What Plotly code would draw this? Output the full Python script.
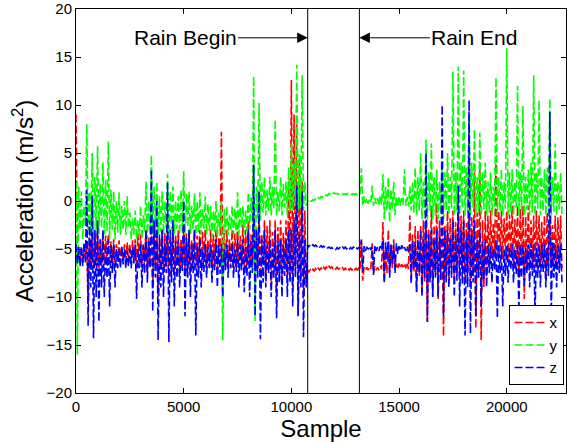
import numpy as np
import plotly.graph_objects as go

# upper / lower reach of each axis, one pair every 125 samples (0 .. 22500)
step = 125

x_hi = [9, -4.8, -5, -4.6, -4.5, -3.8, -3.5, -3.2, -3, -4,
        -3.3, -3.6, -3.5, -4.2, -4, -4.5, -4.1, -4.8, -4.5, -4.3,
        -4.5, -4.1, -4, -3.4, -3.5, -4.4, -3, -3.8, -3, -2.6,
        -3, -3.9, -3, -3.3, -3, -4, -3, -3.5, -3, -3.9,
        -3, -3.4, -3, -4.1, -3, -3.6, -3, -3.2, -3, -4,
        -3, -3.5, -3, -3.8, 7.2, -3.3, -3, -4, -3, -3.4,
        -2.5, -3.6, -2.5, -3, -2, -3.5, -2, -2.8, -2, -3.4,
        -2, -2.6, -2, -3.2, -2, -2.7, -2, -3.3, -2, 2,
        12.6, 9, 8, 4, 2, -1, -7.2, -7.15, -7.1, -7.05,
        -7.0, -6.95, -6.9, -6.85, -6.8, -6.85, -6.9, -6.9, -7.0, -6.95,
        -7.0, -7.0, -7.0, -6.95, -7.0, -7.0, -4, -6.9, -6.9, -6.9,
        -4.4, -6.8, -6.9, -6.8, -2.2, -5, -3, -4.5, -4, -6.5,
        -6.5, -6.6, -6.5, -6.4, -1.5, -3.5, -2.6, -3, -2.6, -2,
        -2, -3, -0.5, -2.5, -0.2, -2, -1, -2.5, -1, -1.8,
        -1, -2.2, -1, -1.5, -1, -2.3, -1, -1.6, 3, -1.2,
        3.3, -2, -1, -1.5, -1, -2.3, 4.5, -1, -1, -1.8,
        -1, -1.4, -0.5, -1.9, -0.5, -0.8, -0.5, -1.6, -0.5, -2,
        -1.5, -1, -1.5, -2.2, -1.5, -1.2, -1.5, -2.5, -1.5, -1.7,
        -1.5]
x_lo = [-6.5, -6.2, -6.5, -6.0, -10.7, -6.8, -7, -6.4, -7, -6.6,
        -6.5, -6.1, -6.5, -6.3, -6.5, -6.0, -6.4, -6.2, -6.4, -6.0,
        -6.5, -6.2, -7, -6.5, -7, -6.3, -7.5, -6.8, -9, -7,
        -10, -6.5, -7.5, -6.9, -8, -7, -7.5, -6.6, -7.5, -7.0,
        -7.5, -6.8, -7.5, -6.5, -7, -6.7, -7, -6.3, -7, -6.8,
        -7, -6.4, -7, -6.6, -7, -6.9, -7, -6.5, -7, -6.8,
        -7, -6.4, -7, -6.7, -7, -6.5, -8, -7, -8, -6.6,
        -8, -7.2, -9, -6.8, -10.2, -7.5, -8, -7, -8, -7.5,
        -9, -7, -11.9, -8, -10, -8.5, -7.4, -7.35, -7.3, -7.28,
        -7.2, -7.2, -7.1, -7.1, -7.0, -7.05, -7.1, -7.1, -7.15, -7.2,
        -7.2, -7.2, -7.2, -7.15, -7.2, -7.2, -8.3, -7.2, -7.2, -7.1,
        -7.5, -7.2, -7.2, -7.1, -8.3, -7.5, -7.5, -7.0, -7, -7.1,
        -7, -6.9, -7, -7.1, -8.3, -7.4, -9.5, -7.8, -9.5, -8.5,
        -12.6, -8, -10, -7.6, -10.2, -8.2, -14.1, -7.5, -8, -7,
        -8, -7.5, -8, -6.8, -8, -7.4, -9, -7.8, -13.3, -8,
        -14.5, -9, -8, -6.8, -6, -5.5, -6, -5.2, -6, -5.8,
        -6, -5.4, -7, -6.2, -8, -6.5, -10.2, -7, -7, -6.4,
        -7, -6.8, -7, -6.2, -8.3, -6.9, -7, -6.5, -7, -6.7,
        -7]

y_hi = [2, 1.5, 1, -0.5, 8, 1, 5, 2.5, 5.7, 1.8,
        4, 2.2, 6.2, 1.2, 1, 0, 0.9, -0.5, 0, 0.5,
        -1.2, -1.8, -1, -2, -0.5, -1.5, 2, 0, 4.8, 1.5,
        2, 0.5, 1, 0, 2.8, 1, 1.5, 0, 0.5, 1.2,
        3.1, 0.8, 1, -0.5, 0.8, 0, 0.9, -0.8, 0.5, -0.3,
        -0.5, -1, 0, -1.2, 0, -0.8, -0.5, -1.5, -0.5, -0.8,
        0.9, -0.6, -0.5, -1, 0.9, 0.4, 13, 1.5, 10.2, 2,
        2.5, 1.2, 2.5, 1.5, 8.5, 1, 2.5, 1.8, 2, 3.5,
        6, 4, 14.2, 5, 13.1, 2, 0.0, 0.05, 0.15, 0.25,
        0.35, 0.45, 0.55, 0.65, 0.8, 0.9, 0.85, 0.8, 0.75, 0.75,
        0.75, 0.8, 0.75, 0.75, 0.75, 0.8, 3.4, 0.5, 0.3, 0.2,
        1.6, 0.3, 0.3, 0.6, 2.8, 1.5, 2.5, 1.2, 2, 0.5,
        0.5, 0.3, 3.3, 0.4, 1.5, 2, 3.5, 2.5, 5, 2,
        6.4, 3, 6, 2.5, 3.3, 2, 4, 3, 5, 2.5,
        13.5, 3, 14, 4, 13.6, 3.5, 8.8, 4, 7.5, 2.5,
        7.1, 3, 4, 2, 3, 1.5, 12.9, 2.5, 3.3, 2,
        15.9, 3, 3.3, 2, 12, 3, 9.9, 2.5, 3.3, 4,
        13.1, 3, 10.5, 2.5, 3.3, 3.5, 10.7, 2.5, 6, 2,
        3]
y_lo = [-16, -3, -4, -2.5, -3, -3.5, -4, -3, -3.5, -2.8,
        -3.5, -3.2, -4, -3, -4, -3.3, -3.5, -3, -3.5, -2.8,
        -4, -3.5, -4, -3.6, -4, -3.2, -4, -3.4, -3.5, -3,
        -3.5, -3.2, -3.5, -2.8, -3.5, -3.1, -3.5, -2.9, -3.5, -3.2,
        -3.5, -2.7, -3.5, -3, -3.5, -3.3, -3.5, -2.9, -3.5, -3.1,
        -3.8, -3.3, -3.8, -3, -14.5, -3.4, -3.5, -3, -3.5, -3.2,
        -3.5, -2.8, -3.5, -3.1, -3, -2.2, -12.5, -1.8, -2, -1.2,
        -1.5, -1, -1.5, -0.8, -1.5, -1.1, -1.5, -0.7, -1.5, -1,
        -1, -0.5, -1, -0.8, -1, -0.5, -0.1, -0.05, 0.05, 0.15,
        0.25, 0.35, 0.45, 0.55, 0.7, 0.8, 0.75, 0.7, 0.65, 0.65,
        0.65, 0.7, 0.65, 0.65, 0.65, 0.7, -0.5, -0.2, -0.3, -0.1,
        -0.5, -0.3, -0.5, -0.4, -1.9, -1, -2.2, -0.8, -1.5, -0.6,
        -0.5, -0.4, -0.5, -0.6, -1, -1.2, -1.5, -1, -1.9, -1.4,
        -1.9, -1, -1.9, -1.5, -1.9, -1.2, -1.9, -1, -1.5, -0.8,
        -1.5, -1, -1.5, -0.8, -1.5, -1.2, -1.5, -0.7, -1.5, -1,
        -1.5, -0.9, -1.5, -1.2, -1.5, -0.6, -1.5, -1, -1.5, -0.8,
        -1.5, -1.1, -1.5, -0.7, -1.5, -1, -1.5, -0.9, -1.5, -1.2,
        -1.5, -0.8, -1.5, -1, -1.5, -0.7, -1.5, -1.1, -1.5, -0.9,
        -1.5]

z_hi = [-4.5, -4.8, -4.7, -4.3, 1.2, -2, 0.5, -3, -2, -4,
        -3, -4.5, -4, -4.6, -4.5, -5, -5, -4.7, -5, -5.2,
        -5, -4.8, -4.5, -5, -4.5, -4.6, -3, -4.2, 3.3, -2,
        0, -3.5, -3, -4.4, 1.9, -3, -2, -4.2, -4, -4.8,
        0, -3.8, -3, -4.5, -3, -4.7, -4, -5, -4.5, -4.8,
        -4.5, -5.2, -4, -4.6, -4.5, -5, -4.5, -4.7, -4.5, -5.1,
        -4, -4.6, -4, -4.8, -3, -4.2, 3.8, -3, 1, -4,
        -3, -4.5, -4, -4.8, -3, -4.2, -4, -4.6, -4, -3,
        -3, -2, 1.6, -3.5, 1, -4, -4.6, -4.55, -4.55, -4.6,
        -4.6, -4.65, -4.7, -4.75, -4.8, -4.85, -4.9, -4.85, -4.85, -4.8,
        -4.8, -4.85, -4.85, -4.8, -4.8, -4.85, -4.1, -4.7, -4.8, -4.7,
        -4.8, -4.6, -4.8, -4.7, -4, -4.3, -4.2, -4.6, -4.5, -4.4,
        -4.7, -4.6, -4.8, -4.7, -4.5, -4.2, -4.3, -4, -3, -4,
        5, -3.5, -3, -4, -3, -3.8, 10, -3, -3, -4,
        -2, -3.6, 1.6, -3, -2, -3.8, 10.5, -3.5, -2, -4,
        -3, -4.3, -4, -4.6, -4.7, -5, -4, -4.6, -4.7, -5.1,
        -4.7, -4.8, -4.5, -5, -4.5, -4.6, -4.5, -4.9, -4.5, -4.4,
        -4.5, -4.8, -4.5, -4.5, -4.5, -4.9, 9.3, -4.3, -4.5, -4.7,
        -4.5]
z_lo = [-6.5, -6.8, -6.8, -6.4, -13, -9, -14.3, -10, -12.6, -9,
        -10, -8, -11, -7.5, -9, -7, -7, -6.6, -7, -6.8,
        -7, -6.5, -10.2, -7, -9, -7.5, -8.5, -7, -11.5, -8,
        -14.5, -9, -10, -7.5, -14.7, -8.5, -11, -8, -9, -7.3,
        -12, -8, -10, -7.5, -14, -8, -9, -7.4, -8, -7,
        -8.5, -7.2, -9, -7.6, -10, -7.2, -8, -7, -8, -7.4,
        -9, -7.2, -9.5, -7.8, -10, -7.5, -12, -8, -14.4, -8.5,
        -9, -7.5, -10, -8, -12.2, -8.5, -10, -7.8, -10, -8.5,
        -11, -8, -12, -9, -14.2, -9, -4.75, -4.7, -4.72, -4.75,
        -4.8, -4.82, -4.85, -4.9, -4.95, -5.0, -5.05, -5.0, -5.0, -4.95,
        -5.0, -5.05, -5.0, -4.95, -5.0, -5.0, -7.4, -5.2, -5.0, -5.1,
        -7.7, -5.2, -5.2, -5.1, -8.6, -6, -8, -6.5, -7.5, -5.5,
        -5.2, -5.1, -5.2, -5.3, -8.6, -7, -9.5, -7.5, -10, -8,
        -12.6, -8.5, -10, -8, -10, -8.2, -12, -8.5, -9, -8,
        -10, -8.3, -11, -8.6, -14, -9, -13.8, -8.5, -12, -8,
        -11, -8.2, -9, -7.5, -8.5, -7.2, -12.2, -7.5, -11, -7.8,
        -8.5, -7.2, -8.5, -7.6, -11.5, -8, -9, -7.5, -9, -7.8,
        -11.9, -8, -9, -7.4, -9, -7.8, -12.2, -8, -9, -7.5,
        -8.5]

x_ticks = [0, 5000, 10000, 15000, 20000]
y_ticks = [-20, -15, -10, -5, 0, 5, 10, 15, 20]

rain_begin = 10757
rain_end = 13158


def zigzag(hi, lo):
    n = min(len(hi), len(lo))
    t = np.empty(2 * n)
    v = np.empty(2 * n)
    t[0::2] = np.arange(n) * step
    t[1::2] = np.arange(n) * step + step / 2
    v[0::2] = hi[:n]
    v[1::2] = lo[:n]
    return t, v


font = "Liberation Sans, Arial, Helvetica, sans-serif"
fig = go.Figure()
for name, hi, lo, color in [("x", x_hi, x_lo, "rgb(255,0,0)"),
                            ("y", y_hi, y_lo, "rgb(0,255,0)"),
                            ("z", z_hi, z_lo, "rgb(0,0,255)")]:
    t, v = zigzag(hi, lo)
    fig.add_trace(go.Scatter(x=t, y=v, mode="lines", name=name,
                             line=dict(color=color, width=1.6, dash="8px,3px")))

for xv in [rain_begin, rain_end]:
    fig.add_shape(type="line", xref="x", yref="paper", x0=xv, x1=xv, y0=0, y1=1,
                  line=dict(color="black", width=1))

fig.add_annotation(x=rain_begin, y=17, ax=5063, ay=17, axref="x", ayref="y",
                   text="Rain Begin", showarrow=True, arrowhead=2, arrowsize=2.1,
                   arrowwidth=1, arrowcolor="black", font=dict(size=21, color="black"))
fig.add_annotation(x=rain_end, y=17, ax=18500, ay=17, axref="x", ayref="y",
                   text="Rain End", showarrow=True, arrowhead=2, arrowsize=2.1,
                   arrowwidth=1, arrowcolor="black", font=dict(size=21, color="black"))

axis_style = dict(showline=True, linecolor="black", linewidth=1, mirror="ticks",
                  ticks="inside", ticklen=5, tickcolor="black", showgrid=False,
                  zeroline=False, automargin=False, tickfont=dict(size=15, color="black"))
fig.update_xaxes(range=[0, 22750], tickvals=x_ticks, ticktext=[str(v) for v in x_ticks],
                 title=dict(text="Sample", font=dict(size=24, color="black"), standoff=4),
                 **axis_style)
fig.update_yaxes(range=[-20, 20], tickvals=y_ticks,
                 title=dict(text="Acceleration (m/s<sup>2</sup>)",
                            font=dict(size=24, color="black"), standoff=6),
                 **axis_style)

fig.update_layout(width=567, height=442, margin=dict(l=76, r=1, t=9, b=49),
                  plot_bgcolor="white", paper_bgcolor="white",
                  font=dict(family=font, color="black"),
                  legend=dict(x=0.995, y=0.02, xanchor="right", yanchor="bottom",
                              bgcolor="white", bordercolor="black", borderwidth=1,
                              font=dict(size=15), tracegroupgap=0))

fig.write_html("out.html", config={"displayModeBar": False},
               post_script="document.body.style.margin='0';")
